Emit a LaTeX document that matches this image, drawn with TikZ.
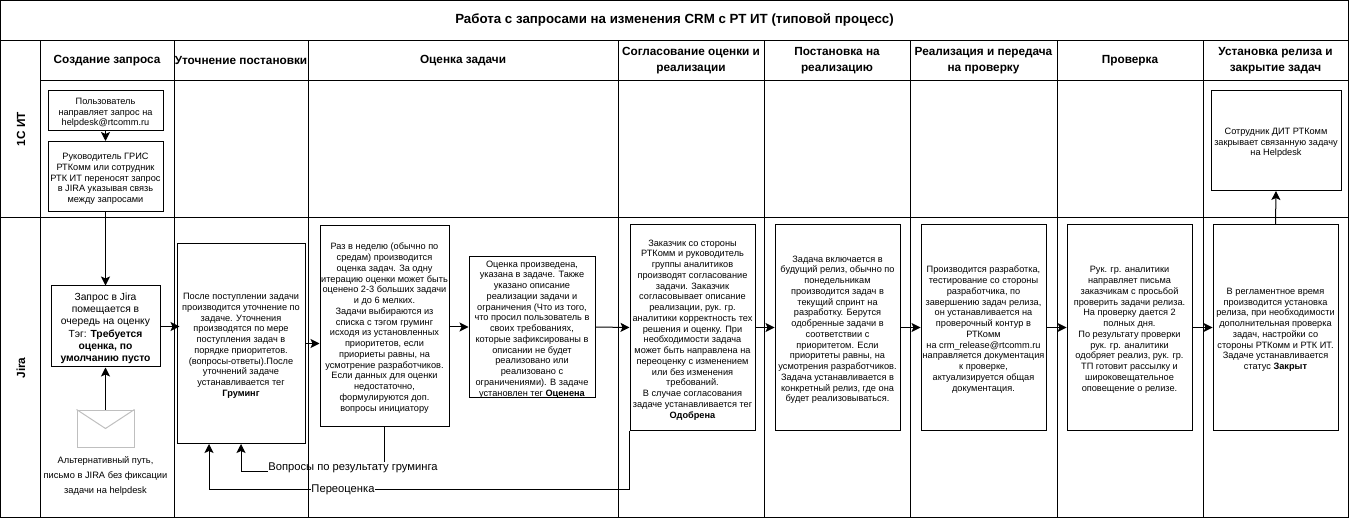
\documentclass[tikz,border=0pt]{standalone}
\usepackage{fontspec}
\setmainfont{Liberation Sans}
\usetikzlibrary{arrows.meta}
\newcommand{\firstline}{\rule{0pt}{11pt}}
\tikzset{
  lane/.style={align=center,inner sep=0pt,font=\fontsize{11.8}{15.5}\selectfont\bfseries},
  procbox/.style={draw=black,fill=white,line width=1pt,align=center,inner sep=0pt,font=\fontsize{9.2}{10.75}\selectfont},
  bigbox/.style={procbox,font=\fontsize{10.3}{12.2}\selectfont},
  note/.style={align=center,inner sep=0pt,font=\fontsize{9.3}{15}\selectfont},
  tag/.style={inner sep=0pt,font=\fontsize{11.2}{13}\selectfont},
  flow/.style={line width=1pt,-{Stealth[length=9pt,width=9pt,inset=2pt]}}
}
\begin{document}
\begin{tikzpicture}[x=1pt,y=-1pt,line width=1pt]
  \useasboundingbox (0,0) rectangle (1349,518);
  % lanes
  \draw (0.5,0.5) rectangle (1348.5,517.5);
  \draw (0.5,40.5) -- (1348.5,40.5);
  \draw (40.5,80.5) -- (1348.5,80.5);
  \draw (0.5,217.5) -- (1348.5,217.5);
  \foreach \x in {40.5,174.5,308.5,618,764,910,1057,1203}
    \draw (\x,40.5) -- (\x,517.5);

  \node[lane,font=\fontsize{13.3}{15}\selectfont\bfseries] (title) at (674.5,20) {Работа с запросами на изменения CRM с РТ ИТ (типовой процесс)};
  \node[lane,rotate=90] (it) at (21,129) {1С ИТ};
  \node[lane,rotate=90] (jira) at (21,368) {Jira};

  \node[lane] (h1) at (107,60.5) {Создание запроса};
  \node[lane] (h2) at (241,60.5) {Уточнение постановки};
  \node[lane] (h3) at (463,60.5) {Оценка задачи};
  \node[lane] (h4) at (691,60.5) {Согласование оценки и\\реализации};
  \node[lane] (h5) at (837,60.5) {Постановка на\\реализацию};
  \node[lane] (h6) at (983.5,60.5) {Реализация и передача\\на проверку};
  \node[lane] (h7) at (1130,60.5) {Проверка};
  \node[lane] (h8) at (1275.5,60.5) {Установка релиза и\\закрытие задач};

  % boxes
  \node[procbox,minimum width=115pt,minimum height=40pt] (mail) at (105.5,110.5)
    {\firstline Пользователь\\направляет запрос на\\helpdesk@rtcomm.ru};
  \node[procbox,minimum width=115pt,minimum height=70pt] (move) at (105.5,176.5)
    {\firstline Руководитель ГРИС\\РТКомм или сотрудник\\РТК ИТ переносят запрос\\в JIRA указывая связь\\между запросами};
  \node[bigbox,minimum width=109pt,minimum height=81pt] (queue) at (105.5,326.5)
    {\firstline Запрос в Jira\\помещается в\\очередь на оценку\\Тэг: \textbf{Требуется}\\\textbf{оценка, по}\\\textbf{умолчанию пусто}};
  \node[draw=black!25,line width=1pt,minimum width=57pt,minimum height=37pt,inner sep=0pt] (envl) at (105.5,428.5) {};
  \draw[draw=black!25] (envl.north west) -- (envl.center) -- (envl.north east);
  \node[note] (alt) at (105.5,476.5)
    {Альтернативный путь,\\письмо в JIRA без фиксации\\задачи на helpdesk};
  \node[procbox,minimum width=128pt,minimum height=200pt] (groom) at (241,343.5)
    {\firstline После поступлении задачи\\производится уточнение по\\задаче. Уточнения\\производятся по мере\\поступления задач в\\порядке приоритетов.\\(вопросы-ответы).После\\уточнений задаче\\устанавливается тег\\\textbf{Груминг}};
  \node[procbox,minimum width=129pt,minimum height=200pt] (estim) at (384.5,326)
    {\firstline Раз в неделю (обычно по\\средам) производится\\оценка задач. За одну\\итерацию оценки может быть\\оценено 2-3 больших задачи\\и до 6 мелких.\\Задачи выбираются из\\списка с тэгом груминг\\исходя из установленных\\приоритетов, если\\приориеты равны, на\\усмотрение разработчиков.\\Если данных для оценки\\недостаточно,\\формулируются доп.\\вопросы инициатору};
  \node[procbox,minimum width=126pt,minimum height=140pt] (done) at (532,327)
    {\firstline Оценка произведена,\\указана в задаче. Также\\указано описание\\реализации задачи и\\ограничения (Что из того,\\что просил пользователь в\\своих требованиях,\\которые зафиксированы в\\описании не будет\\реализовано или\\реализовано с\\ограничениями). В задаче\\установлен тег \textbf{Оценена}};
  \node[procbox,minimum width=125pt,minimum height=205pt] (agree) at (692.5,327.5)
    {\firstline Заказчик со стороны\\РТКомм и руководитель\\группы аналитиков\\производят согласование\\задачи. Заказчик\\согласовывает описание\\реализации, рук. гр.\\аналитики корректность тех\\решения и оценку. При\\необходимости задача\\может быть направлена на\\переоценку с изменением\\или без изменения\\требований.\\В случае согласования\\задаче устанавливается тег\\\textbf{Одобрена}};
  \node[procbox,minimum width=125pt,minimum height=205pt] (plan) at (837.5,327.5)
    {\firstline Задача включается в\\будущий релиз, обычно по\\понедельникам\\производится задач в\\текущий спринт на\\разработку. Берутся\\одобренные задачи в\\соответствии с\\приоритетом. Если\\приоритеты равны, на\\усмотрения разработчиков.\\Задача устанавливается в\\конкретный релиз, где она\\будет реализовываться.};
  \node[procbox,minimum width=125pt,minimum height=205pt] (build) at (983.5,327.5)
    {\firstline Производится разработка,\\тестирование со стороны\\разработчика, по\\завершению задач релиза,\\он устанавливается на\\проверочный контур в\\РТКомм\\на crm\_release@rtcomm.ru\\направляется документация\\к проверке,\\актуализируется общая\\документация.};
  \node[procbox,minimum width=125pt,minimum height=205pt] (check) at (1129.5,327.5)
    {\firstline Рук. гр. аналитики\\направляет письма\\заказчикам с просьбой\\проверить задачи релиза.\\На проверку дается 2\\полных дня.\\По результату проверки\\рук. гр. аналитики\\одобряет реализ, рук. гр.\\ТП готовит рассылку и\\широковещательное\\оповещение о релизе.};
  \node[procbox,minimum width=125pt,minimum height=205pt] (inst) at (1275.5,327.5)
    {\firstline В регламентное время\\производится установка\\релиза, при необходимости\\дополнительная проверка\\задач, настройки со\\стороны РТКомм и РТК ИТ.\\Задаче устанавливается\\статус \textbf{Закрыт}};
  \node[procbox,minimum width=130pt,minimum height=100pt] (close) at (1276,140.5)
    {\firstline Сотрудник ДИТ РТКомм\\закрывает связанную задачу\\на Helpdesk};

  \node[tag] (qlabel) at (353,467.5) {Вопросы по результату груминга};
  \node[tag] (rlabel) at (343,489.5) {Переоценка};

  % connectors
  \foreach \from/\to in {mail/move,move/queue,envl/queue}
    \draw[flow] (\from) -- (\to);
  \draw[flow] (queue.east) -- ([xshift=3pt]queue.east -| groom.west);
  \draw[flow] (groom.east) -- (groom.east -| estim.west);
  \draw[flow] (estim.east |- done.center) -- (done.west);
  \foreach \from/\to in {done/agree,agree/plan,plan/build,build/check,check/inst}
    \draw[flow] (\from.east) -- (\to.west);
  \draw[flow] (inst.north) -- (close.south);
  \draw (estim.south) -- (estim.south |- qlabel.north);
  \draw[flow] ([yshift=-4pt]qlabel.west) -| (groom.south);
  \draw (agree.south west) |- (rlabel.east);
  \draw[flow] (rlabel.west) -| ([xshift=-32pt]groom.south);
\end{tikzpicture}
\end{document}
